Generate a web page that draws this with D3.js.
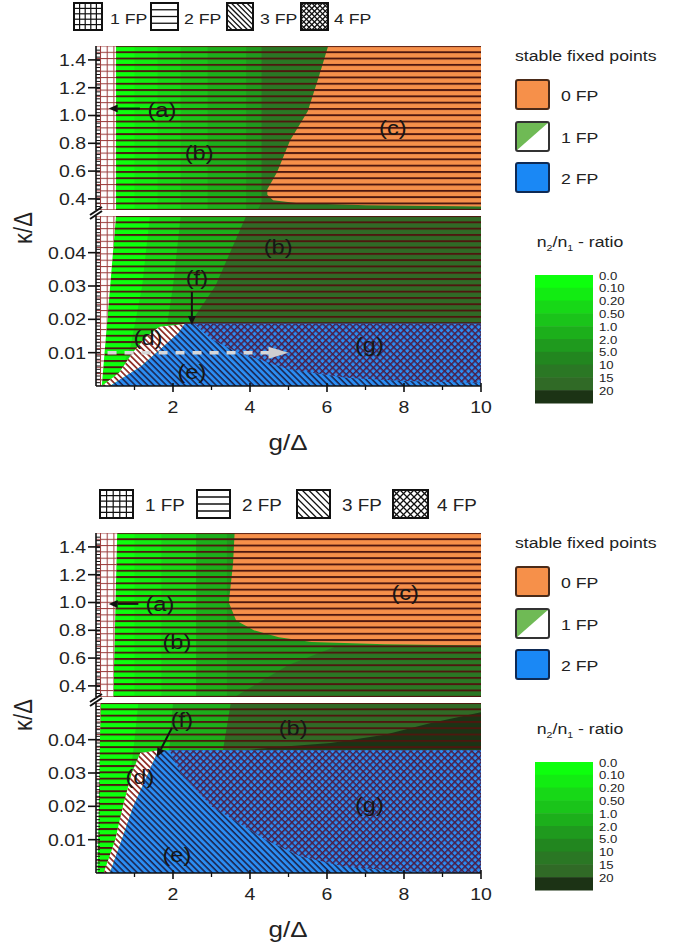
<!DOCTYPE html>
<html><head><meta charset="utf-8">
<script src="https://cdn.jsdelivr.net/npm/d3@7"></script>
<style>body{margin:0;background:#fff}svg{display:block;font-family:"Liberation Sans",Arial,sans-serif}</style>
</head><body><svg id="c" width="685" height="950"></svg>
<script>
// ---------------- DATA ----------------
const gTicks = [2, 4, 6, 8, 10];
const gMinorTicks = [1, 3, 5, 7, 9];
const kUpperTicks = [0.4, 0.6, 0.8, 1.0, 1.2, 1.4];
const kLowerTicks = [0.01, 0.02, 0.03, 0.04];
const kUpperDomain = [0.32, 1.5];
const kLowerDomain = [0, 0.051];
const fpPatternLegend = ["1 FP", "2 FP", "3 FP", "4 FP"];
const stableLegend = ["0 FP", "1 FP", "2 FP"];
const ratioLabels = ["0.0", "0.10", "0.20", "0.50", "1.0", "2.0", "5.0", "10", "15", "20"];

// Panel A (top) — boundaries in (g/Δ, κ/Δ)
const A_aUpper = [[0.52, 1.5], [0.52, 0.32]];
const A_aLower = [[0.52, 0.051], [0.15, 0]];
const A_upperContours = [
  {level: 1, pts: [[1.0, 1.5], [1.0, 0.32]]},
  {level: 2, pts: [[1.6, 1.5], [1.6, 0.32]]},
  {level: 3, pts: [[2.2, 1.5], [2.2, 0.32]]},
  {level: 4, pts: [[2.9, 1.5], [2.9, 0.32]]},
  {level: 5, pts: [[3.9, 1.5], [3.9, 0.32]]},
  {level: 7, pts: [[4.3, 0.37], [4.2, 0.32]]}
];
const A_orange = [[6.03, 1.5], [5.8, 1.29], [5.5, 1.03], [5.04, 0.82], [4.7, 0.59], [4.45, 0.47], [4.45, 0.43], [4.6, 0.39], [5.2, 0.37], [7, 0.355], [10, 0.345], [10, 1.5]];
const A_lowerContours = [
  {level: 2, pts: [[1.4, 0.051], [1.2, 0.03], [0.9, 0.012], [0.5, 0]]},
  {level: 4, pts: [[2.2, 0.051], [2.0, 0.03], [1.8, 0.015], [1.5, 0]]},
  {level: 8, pts: [[3.9, 0.051], [3.1, 0.03], [2.4, 0.018], [2.2, 0]]}
];
const A_darkCap = null;
const A_dOuter = [[0.15, 0], [0.6, 0.004], [0.95, 0.01], [1.3, 0.0147], [1.65, 0.0178], [2.3, 0.0186]];
const A_dInner = [[0.36, 0], [1.15, 0.0057], [1.65, 0.0108], [2.15, 0.016], [2.3, 0.0186]];
const A_blueTop = 0.0187;
const A_eg = [[2.55, 0.0187], [3.0, 0.014], [3.7, 0.01], [5.0, 0.005], [6.5, 0.0025], [8, 0.0015], [10, 0.001]];
const A_labels = [
  {t: "(a)", g: 1.71, k: 1.04, s: "U"}, {t: "(b)", g: 2.68, k: 0.73, s: "U"},
  {t: "(c)", g: 7.71, k: 0.91, s: "U"}, {t: "(b)", g: 4.73, k: 0.0417, s: "L"},
  {t: "(f)", g: 2.62, k: 0.0324, s: "L"}, {t: "(d)", g: 1.35, k: 0.0144, s: "L"},
  {t: "(e)", g: 2.49, k: 0.0042, s: "L"}, {t: "(g)", g: 7.1, k: 0.0123, s: "L"}
];
const A_arrows = [
  {from: [1.14, 1.05], to: [0.33, 1.05], s: "U"},
  {from: [2.49, 0.0282], to: [2.49, 0.0183], s: "L"}
];
const A_dashedArrow = [[0.3, 0.01], [5.0, 0.01]];

// Panel B (bottom)
const B_aUpper = [[0.55, 1.5], [0.45, 0.32]];
const B_aLower = [[0.12, 0.051], [0.04, 0]];
const B_upperContours = [
  {level: 1, pts: [[1.0, 1.5], [1.0, 0.32]]},
  {level: 2, pts: [[1.7, 1.5], [1.7, 0.32]]},
  {level: 4, pts: [[2.6, 1.5], [2.6, 0.32]]},
  {level: 5, pts: [[3.4, 1.5], [3.4, 0.32]]},
  {level: 7, pts: [[10, 0.69], [6.2, 0.68], [5.0, 0.55], [3.6, 0.32]]}
];
const B_orange = [[3.6, 1.5], [3.56, 1.28], [3.45, 1.0], [3.64, 0.87], [4.1, 0.8], [4.75, 0.75], [5.6, 0.715], [7.5, 0.7], [10, 0.69], [10, 1.5]];
const B_lowerContours = [
  {level: 2, pts: [[1.1, 0.051], [1.0, 0.04], [0.8, 0.02], [0.5, 0]]},
  {level: 4, pts: [[2.0, 0.051], [1.9, 0.037], [1.6, 0]]},
  {level: 8, pts: [[3.5, 0.051], [3.3, 0.037], [3.0, 0]]}
];
const B_darkCap = [[4.0, 0.037], [5, 0.038], [6.1, 0.039], [7.5, 0.0415], [8.7, 0.045], [10, 0.0495], [10, 0.037]];
const B_dOuter = [[0.2, 0], [0.5, 0.01], [0.7, 0.02], [0.93, 0.03], [1.15, 0.036], [1.62, 0.0368]];
const B_dInner = [[0.36, 0], [0.67, 0.01], [0.97, 0.02], [1.36, 0.03], [1.62, 0.0368]];
const B_blueTop = 0.0368;
const B_eg = [[1.9, 0.0368], [2.2, 0.03], [3.0, 0.02], [4.4, 0.01], [5.3, 0.005], [6.5, 0.0018], [8, 0.0005], [10, 0]];
const B_labels = [
  {t: "(a)", g: 1.66, k: 0.99, s: "U"}, {t: "(b)", g: 2.1, k: 0.716, s: "U"},
  {t: "(c)", g: 8.03, k: 1.07, s: "U"}, {t: "(b)", g: 5.12, k: 0.0435, s: "L"},
  {t: "(f)", g: 2.23, k: 0.0459, s: "L"}, {t: "(d)", g: 1.14, k: 0.0288, s: "L"},
  {t: "(e)", g: 2.1, k: 0.0054, s: "L"}, {t: "(g)", g: 7.1, k: 0.0204, s: "L"}
];
const B_arrows = [
  {from: [1.1, 0.99], to: [0.33, 0.99], s: "U"},
  {from: [1.97, 0.0435], to: [1.58, 0.0348], s: "L"}
];
const B_dashedArrow = null;

// ---------------- STYLE / LAYOUT ----------------
const pal = ["#0dff0d", "#12ec12", "#17d817", "#1ac41a", "#1caf1b", "#1f9a1e", "#22861f", "#2a7724", "#306a26", "#1c3315"];
const ORANGE = "#f6904a", BLUE = "#2b8df2";
const svg = d3.select("#c");
const defs = svg.append("defs");
const X0 = 96, X1 = 481;
const x = d3.scaleLinear().domain([0, 10]).range([X0, X1]);
const SX = 1.18;

function T(g, px, py, s, size, anchor) {
  return g.append("text").attr("transform", `translate(${px},${py}) scale(${SX},1)`)
    .attr("font-size", size).attr("text-anchor", anchor || "start").attr("fill", "#222").text(s);
}
function linePattern(id, o) {
  const p = defs.append("pattern").attr("id", id).attr("patternUnits", "userSpaceOnUse")
    .attr("x", o.x0 || 0).attr("y", o.y0 || 0).attr("width", o.pw || o.period).attr("height", o.period);
  if (o.angle) p.attr("patternTransform", `rotate(${o.angle})`);
  if (o.h !== false) p.append("rect").attr("width", o.pw || o.period).attr("height", o.width).attr("fill", o.color);
  if (o.v) p.append("rect").attr("width", o.width).attr("height", o.period).attr("fill", o.color);
}
linePattern("diagE", {period: 4.4, width: 1.6, color: "#1b2550", angle: 45});
linePattern("diagD", {period: 4.4, width: 1.7, color: "#8e2b22", angle: 45});
linePattern("crossG", {period: 4.8, width: 1.5, color: "#4a1c45", angle: 45, v: true});

const panels = [
  {dy: 0, aU: A_aUpper, aL: A_aLower, uc: A_upperContours, lc: A_lowerContours, orange: A_orange, cap: A_darkCap,
   dOut: A_dOuter, dIn: A_dInner, bTop: A_blueTop, eg: A_eg, labels: A_labels, arrows: A_arrows, dash: A_dashedArrow,
   legRow: {boxes: [[74, 3, 28, 27], [151, 3, 27, 27], [227, 3, 26, 27], [301, 3, 27, 27]], tx: [110, 184, 260, 334], ty: 24, fs: 15}},
  {dy: 487, aU: B_aUpper, aL: B_aLower, uc: B_upperContours, lc: B_lowerContours, orange: B_orange, cap: B_darkCap,
   dOut: B_dOuter, dIn: B_dInner, bTop: B_blueTop, eg: B_eg, labels: B_labels, arrows: B_arrows, dash: B_dashedArrow,
   legRow: {boxes: [[100, 490, 33, 28], [197, 490, 33, 28], [297, 490, 33, 28], [393, 490, 35, 28]], tx: [145, 242, 342, 437], ty: 511, fs: 16}}
];

panels.forEach((P, pi) => {
  const dy = P.dy;
  const top = 46 + dy, ub = 210 + dy, lt = 216 + dy, lb = 386 + dy;
  const yU = d3.scaleLinear().domain(kUpperDomain).range([ub, top]);
  const yL = d3.scaleLinear().domain(kLowerDomain).range([lb, lt]);
  const G = svg.append("g");

  linePattern("hs" + pi, {period: 6.3, width: 1.9, color: "#4e170f", y0: top - 1, pw: 20});
  const gp = defs.append("pattern").attr("id", "grid" + pi).attr("patternUnits", "userSpaceOnUse")
    .attr("x", 100).attr("y", top - 0.5).attr("width", 6.7).attr("height", 6.3);
  gp.append("rect").attr("width", 1).attr("height", 6.3).attr("fill", "#9b3b3b");
  gp.append("rect").attr("width", 6.7).attr("height", 1).attr("fill", "#9b3b3b");

  const subs = [
    {key: "U", y: yU, t: top, b: ub, kd: kUpperDomain, a: P.aU, cont: P.uc},
    {key: "L", y: yL, t: lt, b: lb, kd: kLowerDomain, a: P.aL, cont: P.lc}
  ];
  subs.forEach(S => {
    const cid = `clip${pi}${S.key}`;
    defs.append("clipPath").attr("id", cid).append("rect")
      .attr("x", X0).attr("y", S.t).attr("width", X1 - X0).attr("height", S.b - S.t);
    const g = G.append("g").attr("clip-path", `url(#${cid})`);
    const ln = d3.line().x(d => x(d[0])).y(d => S.y(d[1]));
    const poly = pts => ln(pts) + "Z";
    const kTop = S.kd[1] + 0.1 * (S.kd[1] - S.kd[0]), kBot = S.kd[0] - 0.1 * (S.kd[1] - S.kd[0]);
    g.append("path").attr("d", poly([[-1, kTop], [11, kTop], [11, kBot], [-1, kBot]])).attr("fill", pal[0]);
    S.cont.forEach(c => {
      const pts = c.pts.slice();
      const f = pts[0], l = pts[pts.length - 1];
      const ext = [[f[0], kTop], ...pts, [l[0], kBot], [11, kBot], [11, kTop]];
      g.append("path").attr("d", poly(ext)).attr("fill", pal[c.level]);
    });
    if (S.key === "U") {
      g.append("path").attr("d", poly([...P.orange.slice(0, -1), [10.5, P.orange[P.orange.length - 2][1]], [10.5, kTop], [P.orange[0][0], kTop]])).attr("fill", ORANGE);
    } else if (P.cap) {
      g.append("path").attr("d", poly([...P.cap.map(d => [d[0] >= 10 ? 10.5 : d[0], d[1]])])).attr("fill", pal[9]);
    }
    g.append("rect").attr("x", X0).attr("y", S.t).attr("width", X1 - X0).attr("height", S.b - S.t).attr("fill", `url(#hs${pi})`);
    const aExt = [[-1, kTop], [S.a[0][0], kTop], ...S.a, [S.a[S.a.length - 1][0], kBot], [-1, kBot]];
    g.append("path").attr("d", poly(aExt)).attr("fill", "#ffffff");
    g.append("path").attr("d", poly(aExt)).attr("fill", `url(#grid${pi})`);

    if (S.key === "L") {
      const dPoly = [...P.dOut, ...P.dIn.slice().reverse()];
      g.append("path").attr("d", poly(dPoly)).attr("fill", "#ffffff");
      g.append("path").attr("d", poly(dPoly)).attr("fill", "url(#diagD)");
      const dInTop = P.dIn[P.dIn.length - 1];
      const bPoly = [[P.dIn[0][0], kBot], ...P.dIn, [dInTop[0], P.bTop], [10.5, P.bTop], [10.5, kBot]];
      g.append("path").attr("d", poly(bPoly)).attr("fill", BLUE);
      g.append("path").attr("d", poly(bPoly)).attr("fill", "url(#diagE)");
      const last = P.eg[P.eg.length - 1];
      const gPoly = [...P.eg, [10.5, last[1]], [10.5, P.bTop]];
      g.append("path").attr("d", poly(gPoly)).attr("fill", BLUE);
      g.append("path").attr("d", poly(gPoly)).attr("fill", "url(#crossG)");
      if (P.dash) {
        const [a, b] = P.dash;
        const y0 = S.y(a[1]);
        g.append("line").attr("x1", x(a[0])).attr("x2", x(b[0]) - 18).attr("y1", y0).attr("y2", y0)
          .attr("stroke", "#d8d8d8").attr("stroke-width", 3.5).attr("stroke-dasharray", "9,8");
        const tx = x(b[0]);
        g.append("path").attr("d", `M${tx},${y0} L${tx - 20},${y0 - 6} L${tx - 20},${y0 + 6} Z`).attr("fill", "#cfcfcf");
      }
    }
    P.labels.filter(L => L.s === S.key).forEach(L => {
      T(G, x(L.g), S.y(L.k) + 7, L.t, 20, "middle").attr("fill", "#161616");
    });
    P.arrows.filter(A => A.s === S.key).forEach(A => {
      const x1 = x(A.from[0]), y1 = S.y(A.from[1]), x2 = x(A.to[0]), y2 = S.y(A.to[1]);
      const ang = Math.atan2(y2 - y1, x2 - x1), hl = 9, hw = 4;
      const bx = x2 - hl * Math.cos(ang), by = y2 - hl * Math.sin(ang);
      G.append("line").attr("x1", x1).attr("y1", y1).attr("x2", bx).attr("y2", by).attr("stroke", "#111").attr("stroke-width", 2);
      G.append("path").attr("d", `M${x2},${y2} L${bx - hw * Math.sin(ang)},${by + hw * Math.cos(ang)} L${bx + hw * Math.sin(ang)},${by - hw * Math.cos(ang)} Z`).attr("fill", "#111");
    });
    G.append("line").attr("x1", X0).attr("x2", X0).attr("y1", S.t).attr("y2", S.b).attr("stroke", "#111").attr("stroke-width", 1.6);
    const step = S.key === "U" ? 0.025 : 0.001;
    const minor = d3.range(S.kd[0] + step, S.kd[1] - step / 2, step);
    G.selectAll(null).data(minor).enter().append("line")
      .attr("x1", X0).attr("x2", X0 + 4).attr("y1", d => S.y(d)).attr("y2", d => S.y(d))
      .attr("stroke", "#111").attr("stroke-width", 1);
    const major = S.key === "U" ? kUpperTicks : kLowerTicks;
    major.forEach(v => {
      const yy = S.y(v);
      G.append("line").attr("x1", X0 - 8).attr("x2", X0 + 4).attr("y1", yy).attr("y2", yy).attr("stroke", "#111").attr("stroke-width", 1.6);
      T(G, X0 - 10, yy + 6, S.key === "U" ? d3.format(".1f")(v) : d3.format(".2f")(v), 16.5, "end");
    });
  });

  [ub + 1, lt - 1].forEach(yy => {
    G.append("line").attr("x1", X0 - 6).attr("y1", yy + 4).attr("x2", X0 + 6).attr("y2", yy - 4)
      .attr("stroke", "#111").attr("stroke-width", 2);
  });

  G.append("line").attr("x1", X0).attr("x2", X1).attr("y1", lb).attr("y2", lb).attr("stroke", "#111").attr("stroke-width", 1.6);
  gTicks.forEach(v => {
    G.append("line").attr("x1", x(v)).attr("x2", x(v)).attr("y1", lb - 3).attr("y2", lb + 6).attr("stroke", "#111").attr("stroke-width", 1.6);
    T(G, x(v), lb + 27, String(v), 16.5, "middle");
  });
  gMinorTicks.forEach(v => {
    G.append("line").attr("x1", x(v)).attr("x2", x(v)).attr("y1", lb).attr("y2", lb + 4).attr("stroke", "#111").attr("stroke-width", 1.3);
  });
  T(G, 288, lb + 64, "g/Δ", 22, "middle");
  G.append("text").attr("transform", `translate(32,${228 + dy}) rotate(-90) scale(1,${SX})`)
    .attr("font-size", 22).attr("text-anchor", "middle").attr("fill", "#222").text("κ/Δ");

  P.legRow.boxes.forEach((b, i) => {
    const [bx, by, bw, bh] = b;
    const lid = `leg${pi}${i}`;
    defs.append("clipPath").attr("id", lid).append("rect").attr("x", bx).attr("y", by).attr("width", bw).attr("height", bh);
    const lg = G.append("g").attr("clip-path", `url(#${lid})`);
    lg.append("rect").attr("x", bx).attr("y", by).attr("width", bw).attr("height", bh).attr("fill", "#fff");
    if (i === 0) {
      for (let k = 1; k < 5; k++) {
        lg.append("line").attr("x1", bx + bw * k / 5).attr("x2", bx + bw * k / 5).attr("y1", by).attr("y2", by + bh).attr("stroke", "#111").attr("stroke-width", 1.2);
        lg.append("line").attr("y1", by + bh * k / 5).attr("y2", by + bh * k / 5).attr("x1", bx).attr("x2", bx + bw).attr("stroke", "#111").attr("stroke-width", 1.2);
      }
    } else if (i === 1) {
      for (let k = 1; k < 4; k++)
        lg.append("line").attr("y1", by + bh * k / 4).attr("y2", by + bh * k / 4).attr("x1", bx).attr("x2", bx + bw).attr("stroke", "#111").attr("stroke-width", 1.3);
    } else {
      const sp = bw / 5;
      for (let t = -bh; t < bw + bh; t += sp) {
        lg.append("line").attr("x1", bx + t).attr("y1", by).attr("x2", bx + t + bh).attr("y2", by + bh).attr("stroke", "#111").attr("stroke-width", 1.3);
        if (i === 3) lg.append("line").attr("x1", bx + t).attr("y1", by + bh).attr("x2", bx + t + bh).attr("y2", by).attr("stroke", "#111").attr("stroke-width", 1.3);
      }
    }
    G.append("rect").attr("x", bx).attr("y", by).attr("width", bw).attr("height", bh).attr("fill", "none").attr("stroke", "#111").attr("stroke-width", 2);
    T(G, P.legRow.tx[i], P.legRow.ty, fpPatternLegend[i], P.legRow.fs, "start");
  });

  T(G, 515, 61 + dy, "stable fixed points", 15, "start");
  const boxY = [80, 122, 163];
  stableLegend.forEach((s, i) => {
    const by = boxY[i] + dy;
    if (i === 0) G.append("rect").attr("x", 516).attr("y", by).attr("width", 33).attr("height", 29).attr("rx", 2).attr("fill", ORANGE).attr("stroke", "#4a2a18").attr("stroke-width", 2);
    if (i === 1) {
      G.append("rect").attr("x", 516).attr("y", by).attr("width", 33).attr("height", 29).attr("rx", 2).attr("fill", "#fff");
      G.append("path").attr("d", `M516,${by} L549,${by} L516,${by + 29} Z`).attr("fill", "#6fba55");
      G.append("rect").attr("x", 516).attr("y", by).attr("width", 33).attr("height", 29).attr("rx", 2).attr("fill", "none").attr("stroke", "#333").attr("stroke-width", 2);
    }
    if (i === 2) G.append("rect").attr("x", 516).attr("y", by).attr("width", 33).attr("height", 29).attr("rx", 2).attr("fill", "#1a88f5").attr("stroke", "#0e2a55").attr("stroke-width", 2);
    T(G, 561, by + 21, s, 15, "start");
  });

  const tt = G.append("text").attr("transform", `translate(580,${247 + dy}) scale(${SX},1)`).attr("font-size", 15).attr("text-anchor", "middle").attr("fill", "#222");
  tt.append("tspan").text("n");
  tt.append("tspan").attr("font-size", 9).attr("dy", 4).text("2");
  tt.append("tspan").attr("dy", -4).text("/n");
  tt.append("tspan").attr("font-size", 9).attr("dy", 4).text("1");
  tt.append("tspan").attr("dy", -4).text(" - ratio");

  const cb = d3.scaleBand().domain(ratioLabels).range([275 + dy, 403 + dy]);
  G.selectAll(null).data(ratioLabels).enter().append("rect")
    .attr("x", 535).attr("width", 58).attr("y", d => cb(d)).attr("height", cb.bandwidth() + 0.5)
    .attr("fill", (d, i) => pal[i]);
  ratioLabels.forEach(l => {
    G.append("text").attr("transform", `translate(599,${cb(l) + 4.5}) scale(1.25,1.12)`).attr("font-size", 10.5).attr("fill", "#222").text(l);
  });
});
</script></body></html>
